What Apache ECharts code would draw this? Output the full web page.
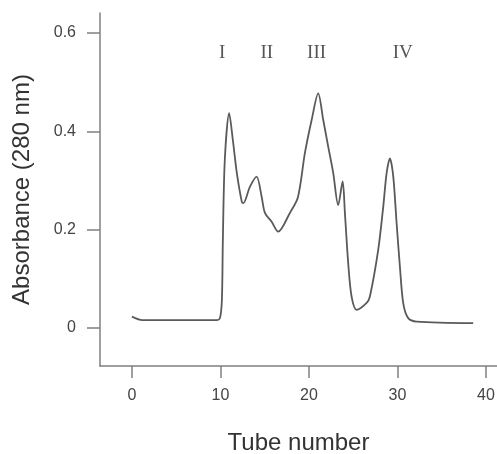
<!doctype html>
<html lang="en">
<head>
	<meta charset="utf-8">
	<title>Absorbance profile</title>
	<script src="https://cdn.jsdelivr.net/npm/echarts@6.0.0/dist/echarts.min.js"></script>
	<style>
		html, body { margin: 0; padding: 0; background: #fff; }
		#chart { width: 497px; height: 454px; }
	</style>
</head>
<body>
	<div id="chart"></div>
	<script>
		// elution profile
		var tubeNumber = [0, 1.2, 9.6, 9.95, 10.17, 10.28, 10.5, 10.99, 11.41, 11.86, 12.43, 12.6,
			13.33, 14.09, 14.66, 15.03, 15.79, 16.53, 17.85, 18.76, 19.55, 20.31, 21.05, 21.62,
			22.18, 22.75, 23.31, 23.81, 24.07, 24.44, 24.82, 25.39, 26.52, 26.89, 27.83, 28.4,
			28.78, 29.15, 29.53, 29.91, 30.28, 30.66, 31.22, 32.17, 38.56];
		var absorbance = [0.023, 0.016, 0.016, 0.02, 0.057, 0.179, 0.342, 0.437, 0.382, 0.315, 0.256, 0.254,
			0.287, 0.308, 0.267, 0.234, 0.216, 0.196, 0.234, 0.266, 0.356, 0.423, 0.477, 0.423,
			0.369, 0.315, 0.25, 0.298, 0.233, 0.132, 0.064, 0.037, 0.051, 0.064, 0.159, 0.247,
			0.315, 0.345, 0.308, 0.213, 0.125, 0.05, 0.02, 0.013, 0.01];

		// peak labels
		var peakNames = ['I', 'II', 'III', 'IV'];
		var peakX = [10.2, 15.25, 20.87, 30.6];
		var peakY = [0.559, 0.559, 0.559, 0.559];

		var xTicks = [0, 10, 20, 30, 40];
		var yTicks = [0, 0.2, 0.4, 0.6];

		var lineData = [];
		for (let i = 0; i < tubeNumber.length; i++) {
			lineData.push([tubeNumber[i], absorbance[i]]);
		}
		var labelData = [];
		for (let i = 0; i < peakNames.length; i++) {
			labelData.push([peakX[i], peakY[i], peakNames[i]]);
		}

		var axisColor = '#808080';
		var textColor = '#444';

		option = {
			animation: false,
			grid: {
				left: 100,
				right: 0,
				top: 13,
				bottom: 88,
				outerBoundsMode: 'none',
			},
			xAxis: {
				type: 'value',
				min: -3.6,
				max: 41.25,
				name: 'Tube number',
				nameLocation: 'middle',
				nameGap: 65,
				nameTextStyle: { fontFamily: 'Liberation Sans', fontSize: 24, color: '#333' },
				splitLine: { show: false },
				axisLine: { onZero: false, lineStyle: { color: axisColor, width: 1.5 } },
				axisTick: { customValues: xTicks, length: 12, lineStyle: { color: axisColor, width: 1.5 } },
				axisLabel: {
					customValues: xTicks,
					margin: 22,
					fontFamily: 'Liberation Sans',
					fontSize: 16,
					color: textColor,
				},
			},
			yAxis: {
				type: 'value',
				min: -0.0773,
				max: 0.6406,
				name: 'Absorbance (280 nm)',
				nameLocation: 'middle',
				nameGap: 66,
				nameTextStyle: { fontFamily: 'Liberation Sans', fontSize: 24, color: '#333' },
				splitLine: { show: false },
				axisLine: { show: true, onZero: false, lineStyle: { color: axisColor, width: 1.5 } },
				axisTick: { show: true, customValues: yTicks, length: 13, lineStyle: { color: axisColor, width: 1.5 } },
				axisLabel: {
					customValues: yTicks,
					margin: 24,
					fontFamily: 'Liberation Sans',
					fontSize: 16,
					color: textColor,
					formatter: function (v) { return v === 0 ? '0' : v.toFixed(1); },
				},
			},
			series: [{
				type: 'line',
				data: lineData,
				symbol: 'none',
				smooth: 0.3,
				lineStyle: { color: '#5a5a5a', width: 1.8 },
			}, {
				type: 'scatter',
				data: labelData,
				symbolSize: 0,
				label: {
					show: true,
					position: 'inside',
					formatter: function (p) { return p.value[2]; },
					fontFamily: 'Liberation Serif',
					fontSize: 19,
					color: '#2a2a2a',
				},
			}],
		};

		let echartsObj = echarts.init(document.getElementById('chart'));
		echartsObj.setOption(option);
	</script>
</body>
</html>
